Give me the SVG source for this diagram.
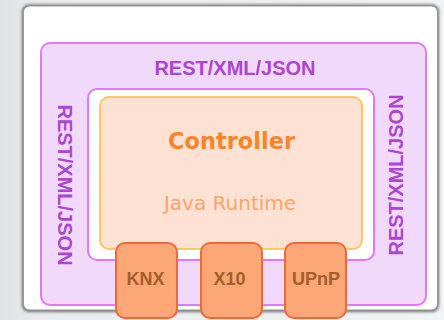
<svg xmlns="http://www.w3.org/2000/svg" width="444" height="320" viewBox="0 0 444 320">
  <defs>
    <linearGradient id="bg" x1="0" y1="0" x2="1" y2="0">
      <stop offset="0" stop-color="#e0e2e4"/>
      <stop offset="0.1" stop-color="#eaecee"/>
      <stop offset="1" stop-color="#f2f3f4"/>
    </linearGradient>
    <filter id="sh" x="-10%" y="-10%" width="120%" height="120%">
      <feGaussianBlur stdDeviation="1.5"/>
    </filter>
  </defs>
  <style>
    .rest { font-family: "Liberation Sans", Arial, sans-serif; font-weight: bold; font-size: 20px; fill: #ac45cf; text-anchor: middle; }
    .proto rect { fill: #fba775; stroke: #f0683a; stroke-width: 2; }
    .proto text { font-family: "Liberation Sans", Arial, sans-serif; font-weight: bold; font-size: 18px; fill: #a45e2c; text-anchor: middle; }
  </style>
  <rect x="0" y="0" width="444" height="320" fill="url(#bg)"/>
  <g id="card">
    <rect x="22" y="4.5" width="417" height="307.5" rx="7" fill="#707070" filter="url(#sh)"/>
    <rect x="23.5" y="6" width="414" height="304" rx="6" fill="#ffffff" stroke="#969696" stroke-width="1"/>
  </g>
  <g id="api">
    <rect x="41" y="43" width="385" height="262" rx="9" fill="#f1d9fc" stroke="#df79f7" stroke-width="2"/>
    <text class="rest" x="235" y="75">REST/XML/JSON</text>
    <text class="rest" transform="translate(58,185) rotate(90)" x="0" y="0">REST/XML/JSON</text>
    <text class="rest" transform="translate(403,175) rotate(-90)" x="0" y="0">REST/XML/JSON</text>
  </g>
  <g id="inner">
    <rect x="88" y="89" width="286" height="171" rx="9" fill="#ffffff" stroke="#df79f7" stroke-width="2"/>
  </g>
  <g id="controller">
    <rect x="100" y="97" width="262" height="152" rx="9" fill="#fde2d3" stroke="#fbc767" stroke-width="2"/>
    <text x="231.5" y="149" font-family="DejaVu Sans, Verdana, sans-serif" font-weight="bold" font-size="22.5" fill="#f6862a" text-anchor="middle">Controller</text>
    <text x="230" y="210" font-family="DejaVu Sans, Verdana, sans-serif" font-size="20" fill="#f8a56b" text-anchor="middle">Java Runtime</text>
  </g>
  <g id="knx" class="proto">
    <rect x="116" y="243" width="61" height="75" rx="9"/>
    <text x="145.5" y="285">KNX</text>
  </g>
  <g id="x10" class="proto">
    <rect x="201" y="243" width="61" height="75" rx="9"/>
    <text x="229.5" y="285">X10</text>
  </g>
  <g id="upnp" class="proto">
    <rect x="285" y="243" width="61" height="75" rx="9"/>
    <text x="316" y="285">UPnP</text>
  </g>
  <g id="connectors"/>
</svg>
